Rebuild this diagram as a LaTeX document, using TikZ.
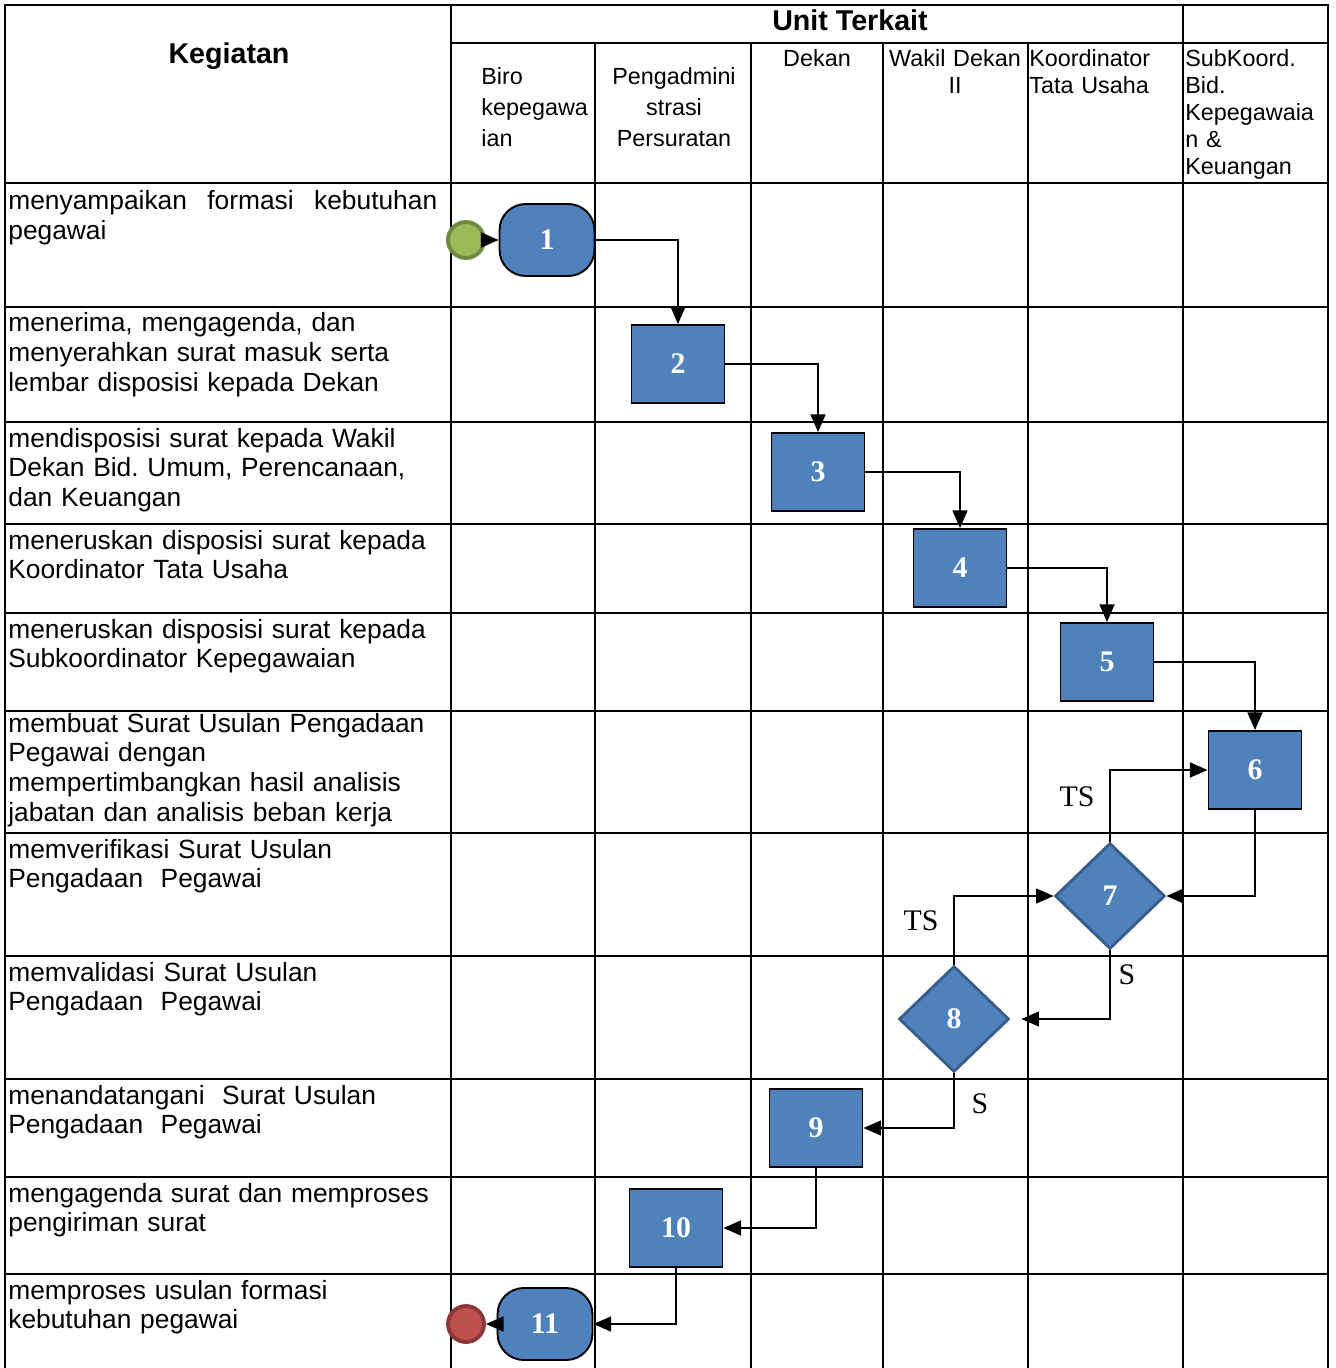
\documentclass[tikz,border=0pt]{standalone}
\usepackage{fontspec}
\setmainfont{Liberation Sans}
\newfontfamily\angka{Liberation Serif}
\usetikzlibrary{shapes.geometric,arrows.meta}

\definecolor{biru}{RGB}{79,129,189}
\definecolor{birutua}{RGB}{56,93,138}
\definecolor{hijau}{RGB}{155,187,89}
\definecolor{hijautua}{RGB}{113,137,63}
\definecolor{merah}{RGB}{192,80,77}
\definecolor{merahtua}{RGB}{140,56,54}

\tikzset{
    garis/.style={line width=1.1pt, line cap=rect},
    panah/.style={-{Triangle[length=10pt,width=8.5pt]}, line width=0.9pt},
    proses/.style={rectangle, draw=black, line width=1.1pt, fill=biru, text=white,
        minimum width=1.86cm, minimum height=1.56cm, inner sep=0pt,
        font=\angka\bfseries\fontsize{17}{20}\selectfont},
    terminal/.style={proses, rounded corners=15pt, minimum width=1.9cm, minimum height=1.44cm},
    keputusan/.style={diamond, draw=birutua, line width=1.6pt, fill=biru, text=white,
        minimum width=2.2cm, minimum height=2.12cm, inner sep=0pt,
        font=\angka\bfseries\fontsize{17}{20}\selectfont},
    mulai/.style={circle, draw=hijautua, fill=hijau, line width=2.2pt, minimum size=0.72cm, inner sep=0pt},
    selesai/.style={circle, draw=merahtua, fill=merah, line width=2.2pt, minimum size=0.72cm, inner sep=0pt},
    kegiatan/.style={anchor=base west, align=left, inner sep=0pt, text width=8.8cm,
        font=\fontsize{15}{17}\selectfont},
    kepala/.style={anchor=base, align=center, inner sep=0pt, text width=2.9cm,
        font=\fontsize{13.3}{15.3}\selectfont},
    kepalakiri/.style={anchor=base west, align=left, inner sep=0pt, text width=2.8cm,
        font=\fontsize{13.3}{15.3}\selectfont},
    judul/.style={anchor=base, inner sep=0pt, font=\bfseries\fontsize{16.3}{19}\selectfont},
    ket/.style={inner sep=0pt, font=\angka\fontsize{17}{20}\selectfont}
}

\begin{document}
\begin{tikzpicture}[x=0.02cm,y=-0.02cm]
    \useasboundingbox (0,0) rectangle (1335,1368);

    % Garis tabel
    \draw[garis] (5,5) -- (1328,5);
    \draw[garis] (451,43) -- (1328,43);
    \foreach \y in {183,307,422,524,613,711,833,956,1079,1177,1274}
        \draw[garis] (5,\y) -- (1328,\y);
    \foreach \x in {5,451,1183,1328}
        \draw[garis] (\x,5) -- (\x,1368);
    \foreach \x in {595,751,883,1028}
        \draw[garis] (\x,43) -- (\x,1368);

    % Judul kolom
    \node[judul] (hkeg) at (229,64) {Kegiatan};
    \node[judul] (hunit) at (850,31) {Unit Terkait};
    \node[kepalakiri, text width=2.3cm, font=\fontsize{13.3}{17.6}\selectfont] (hbiro) at (481,85) {Biro\\kepegawa\\ian};
    \node[kepala, font=\fontsize{13.3}{17.6}\selectfont] (hpers) at (674,85) {Pengadmini\\strasi\\Persuratan};
    \node[kepala] (hdekan) at (817,67) {Dekan};
    \node[kepala] (hwd) at (955,67) {Wakil Dekan\\II};
    \node[kepalakiri] (hktu) at (1029,67) {Koordinator\\Tata Usaha};
    \node[kepalakiri] (hsub) at (1185,67) {SubKoord.\\Bid.\\Kepegawaia\\n \&\\Keuangan};

    % Uraian kegiatan
    \node[kegiatan] (r1) at (8,210) {\hbox to 8.58cm{menyampaikan\hfill formasi\hfill kebutuhan}\\pegawai};
    \node[kegiatan] (r2) at (8,332) {menerima, mengagenda, dan\\menyerahkan surat masuk serta\\lembar disposisi kepada Dekan};
    \node[kegiatan] (r3) at (8,447) {mendisposisi surat kepada Wakil\\Dekan Bid.\ Umum, Perencanaan,\\dan Keuangan};
    \node[kegiatan] (r4) at (8,549) {meneruskan disposisi surat kepada\\Koordinator Tata Usaha};
    \node[kegiatan] (r5) at (8,638) {meneruskan disposisi surat kepada\\Subkoordinator Kepegawaian};
    \node[kegiatan] (r6) at (8,732) {membuat Surat Usulan Pengadaan\\Pegawai dengan\\mempertimbangkan hasil analisis\\jabatan dan analisis beban kerja};
    \node[kegiatan] (r7) at (8,858) {memverifikasi Surat Usulan\\Pengadaan \ Pegawai};
    \node[kegiatan] (r8) at (8,981) {memvalidasi Surat Usulan\\Pengadaan \ Pegawai};
    \node[kegiatan] (r9) at (8,1104) {menandatangani \ Surat Usulan\\Pengadaan \ Pegawai};
    \node[kegiatan] (r10) at (8,1202) {mengagenda surat dan memproses\\pengiriman surat};
    \node[kegiatan] (r11) at (8,1299) {memproses usulan formasi\\kebutuhan pegawai};

    % Simbol alur
    \node[mulai] (mulai) at (466,240) {};
    \node[terminal] (t1) at (547,240) {1};
    \node[proses] (p2) at (678,364) {2};
    \node[proses] (p3) at (818,472) {3};
    \node[proses] (p4) at (960,568) {4};
    \node[proses] (p5) at (1107,662) {5};
    \node[proses] (p6) at (1255,770) {6};
    \node[keputusan] (k7) at (1110,896) {7};
    \node[keputusan] (k8) at (954,1019) {8};
    \node[proses] (p9) at (816,1128) {9};
    \node[proses] (p10) at (676,1228) {10};
    \node[terminal] (t11) at (545,1324) {11};
    \node[selesai] (selesai) at (466,1324) {};

    % Panah
    \draw[panah] (mulai) -- (t1);
    \draw[panah] (t1.east) -| (p2.north);
    \draw[panah] (p2.east) -| (p3.north);
    \draw[panah] (p3.east) -| (p4.north);
    \draw[panah] (p4.east) -| (p5.north);
    \draw[panah] (p5.east) -| (p6.north);
    \draw[panah] (p6.south) |- (k7.east);
    \draw[panah] (k7.north) |- (p6.west);
    \draw[panah, shorten >=0.22cm] (k7.south) |- (k8.east);
    \draw[panah] (k8.north) |- (k7.west);
    \draw[panah] (k8.south) |- (p9.east);
    \draw[panah] (p9.south) |- (p10.east);
    \draw[panah] (p10.south) |- (t11.east);
    \draw[panah] (t11) -- (selesai);

    % Keterangan TS / S
    \node[ket] (ts7) at (1077,797) {TS};
    \node[ket] (s7) at (1127,975) {S};
    \node[ket] (ts8) at (921,921) {TS};
    \node[ket] (s8) at (980,1104) {S};
\end{tikzpicture}
\end{document}
